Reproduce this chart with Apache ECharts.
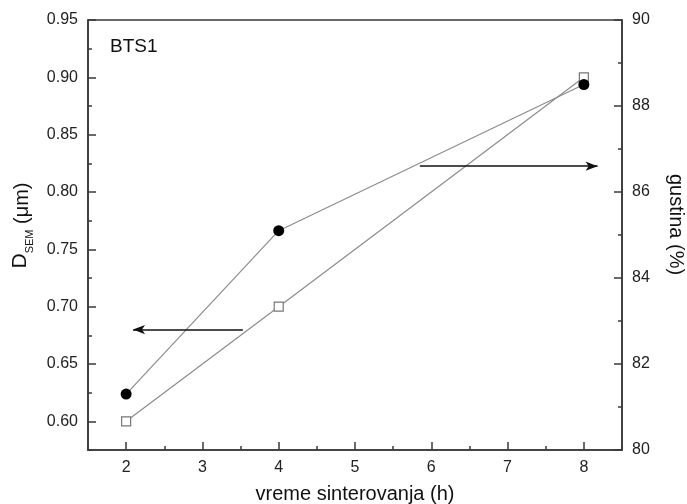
<!DOCTYPE html>
<html>
<head>
<meta charset="utf-8">
<script src="https://cdn.jsdelivr.net/npm/echarts@6/dist/echarts.min.js"></script>
<style>html,body{margin:0;padding:0;background:#fff;}#chart{width:687px;height:504px;}</style>
</head>
<body>
<div id="chart"></div>
<script>
// Data
const hours = [2, 4, 8];
const dsem = [0.60, 0.70, 0.90];          // D_SEM (µm), left axis, open squares
const gustina = [81.3, 85.1, 88.5];       // gustina (%), right axis, filled circles
const xTicks = [2, 3, 4, 5, 6, 7, 8];
const leftTicks = [0.60, 0.65, 0.70, 0.75, 0.80, 0.85, 0.90, 0.95];
const rightTicks = [80, 82, 84, 86, 88, 90];
const leftArrow = [[3.53, 0.68], [2.09, 0.68]];
const rightArrow = [[5.85, 86.6], [8.18, 86.6]];
const panelLabel = 'BTS1';

const FONT = 'Liberation Sans, Arial, Helvetica, sans-serif';
const AX = '#3a3a3a';
const chart = echarts.init(document.getElementById('chart'), null, {renderer: 'canvas'});

const axisLine = {show: true, lineStyle: {color: AX, width: 1.6}};
const label = {color: '#222', fontSize: 16, fontFamily: FONT};

chart.setOption({
  animation: false,
  backgroundColor: '#fff',
  grid: {left: 88, top: 20, right: 65, bottom: 54, outerBoundsMode: 'none', containLabel: false,
         show: true, borderColor: AX, borderWidth: 1.6, backgroundColor: 'transparent'},
  graphic: [{
    type: 'text', left: 110, top: 37,
    style: {text: panelLabel, fontSize: 19, fontFamily: FONT, fill: '#111'}
  }],
  xAxis: [{
    type: 'value', min: 1.5, max: 8.5, position: 'bottom',
    axisLine: axisLine, splitLine: {show: false},
    axisTick: {show: true, inside: true, length: 8, customValues: xTicks, lineStyle: {color: AX, width: 1.5}},
    axisLabel: Object.assign({customValues: xTicks, margin: 10}, label),
    name: 'vreme sinterovanja (h)', nameLocation: 'middle', nameGap: 34,
    nameTextStyle: {fontSize: 20, color: '#111', fontFamily: FONT}
  }, {
    type: 'value', min: 1.5, max: 8.5, interval: 0.5, position: 'bottom',
    axisLine: {show: false}, splitLine: {show: false}, axisLabel: {show: false},
    axisTick: {show: true, inside: true, length: 4, lineStyle: {color: AX, width: 1.5}}
  }],
  yAxis: [{
    type: 'value', min: 0.575, max: 0.95, position: 'left',
    axisLine: axisLine, splitLine: {show: false},
    axisTick: {show: true, inside: true, length: 8, customValues: leftTicks, lineStyle: {color: AX, width: 1.5}},
    axisLabel: Object.assign({customValues: leftTicks, margin: 10, formatter: v => v.toFixed(2)}, label),
    name: '{d|D}{s|SEM}{u| (μm)}', nameLocation: 'middle', nameGap: 51,
    nameTextStyle: {
      color: '#111', fontFamily: FONT, fontSize: 20, padding: [0, 0, 0, 19],
      rich: {
        d: {fontSize: 21, fontFamily: FONT, color: '#111', verticalAlign: 'bottom', padding: [0, 0, 5, 0]},
        s: {fontSize: 11, fontFamily: FONT, color: '#111', verticalAlign: 'bottom'},
        u: {fontSize: 20, fontFamily: FONT, color: '#111', verticalAlign: 'bottom', padding: [0, 0, 3, 0]}
      }
    }
  }, {
    type: 'value', min: 80, max: 90, interval: 2, position: 'right',
    axisLine: axisLine, splitLine: {show: false},
    axisTick: {show: true, inside: true, length: 8, lineStyle: {color: AX, width: 1.5}},
    minorTick: {show: true, splitNumber: 2, length: 4, lineStyle: {color: AX, width: 1.5}},
    minorSplitLine: {show: false},
    axisLabel: Object.assign({margin: 10}, label),
    name: 'gustina (%)', nameLocation: 'middle', nameGap: 44, nameRotate: -90,
    nameTextStyle: {fontSize: 20, color: '#111', fontFamily: FONT, padding: [0, 21, 0, 0]}
  }, {
    type: 'value', min: 0.575, max: 0.95, interval: 0.025, position: 'left',
    axisLine: {show: false}, splitLine: {show: false}, axisLabel: {show: false},
    axisTick: {show: true, inside: true, length: 4, lineStyle: {color: AX, width: 1.5}}
  }],
  series: [{
    name: 'D_SEM', type: 'line', xAxisIndex: 0, yAxisIndex: 0,
    data: hours.map((h, i) => [h, dsem[i]]),
    symbol: 'rect', symbolSize: 9,
    lineStyle: {color: '#8c8c8c', width: 1.2},
    itemStyle: {color: '#fff', borderColor: '#777', borderWidth: 1.2},
    z: 3,
    markLine: {
      silent: true, symbol: ['none', 'arrow'], symbolSize: [7, 12],
      label: {show: false}, lineStyle: {color: '#111', width: 1.5, type: 'solid'},
      data: [[{coord: leftArrow[0]}, {coord: leftArrow[1]}]]
    }
  }, {
    name: 'gustina', type: 'line', xAxisIndex: 0, yAxisIndex: 1,
    data: hours.map((h, i) => [h, gustina[i]]),
    symbol: 'circle', symbolSize: 11,
    lineStyle: {color: '#8c8c8c', width: 1.2},
    itemStyle: {color: '#000', borderColor: '#000', borderWidth: 0},
    z: 4,
    markLine: {
      silent: true, symbol: ['none', 'arrow'], symbolSize: [7, 12],
      label: {show: false}, lineStyle: {color: '#111', width: 1.5, type: 'solid'},
      data: [[{coord: rightArrow[0]}, {coord: rightArrow[1]}]]
    }
  }]
});
</script>
</body>
</html>
